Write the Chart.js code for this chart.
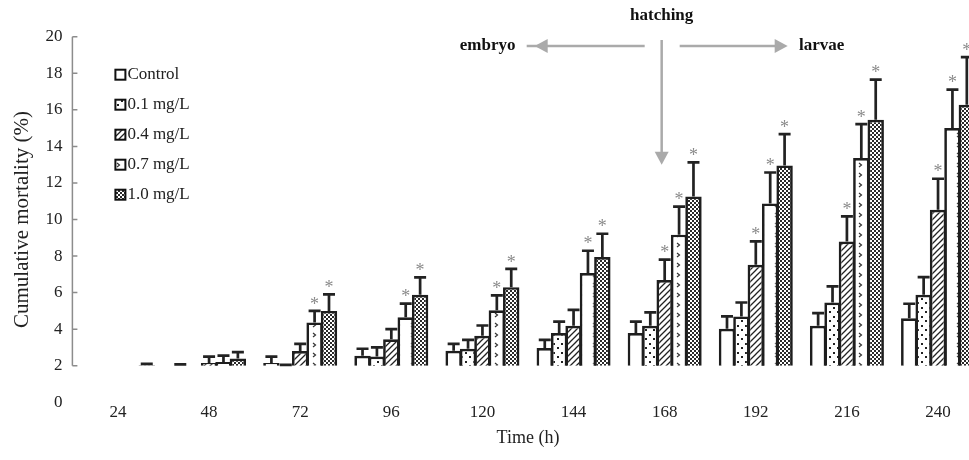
<!DOCTYPE html>
<html>
<head>
<meta charset="utf-8">
<script src="https://cdn.jsdelivr.net/npm/chart.js@4"></script>
<style>
  html, body { margin: 0; padding: 0; background: #fff; overflow: hidden; }
  #wrap { width: 1000px; height: 460px; position: relative; }
</style>
</head>
<body>
<div id="wrap"><canvas id="grafica"></canvas></div>
<script>
// datos
const horas = ['24', '48', '72', '96', '120', '144', '168', '192', '216', '240'];
const BASE = 2;   // las barras arrancan en 2 (%)

const control    = [2.0, 2.0, 2.15, 2.55, 2.82, 2.97, 3.79, 4.02, 4.19, 4.6];
const controlErr = [0, 0.08, 0.35, 0.38, 0.38, 0.45, 0.62, 0.68, 0.69, 0.79];
const c01        = [2.0, 2.0, 2.0, 2.5, 2.93, 3.79, 4.19, 4.7, 5.46, 5.88];
const c01Err     = [0, 0, 0.05, 0.5, 0.49, 0.62, 0.73, 0.76, 0.88, 0.97];
const c04        = [2.0, 2.15, 2.8, 3.45, 3.64, 4.19, 6.69, 7.52, 8.8, 10.53];
const c04Err     = [0, 0.35, 0.4, 0.55, 0.56, 0.87, 1.11, 1.28, 1.37, 1.7];
const c07        = [2.0, 2.2, 4.37, 4.65, 5.03, 7.07, 9.17, 10.88, 13.36, 15.0];
const c07Err     = [0, 0.35, 0.63, 0.75, 0.82, 1.22, 1.53, 1.69, 1.86, 2.1];
const c10        = [2.02, 2.4, 5.0, 5.88, 6.3, 7.95, 11.26, 12.96, 15.46, 16.28];
const c10Err     = [0.08, 0.35, 0.9, 0.95, 1.0, 1.27, 1.86, 1.71, 2.19, 2.6];

// diferencias significativas (*)
const sigControl = [0, 0, 0, 0, 0, 0, 0, 0, 0, 0];
const sig01      = [0, 0, 0, 0, 0, 0, 0, 0, 0, 0];
const sig04      = [0, 0, 0, 0, 0, 0, 1, 1, 1, 1];
const sig07      = [0, 0, 1, 1, 1, 1, 1, 1, 1, 1];
const sig10      = [0, 0, 1, 1, 1, 1, 1, 1, 1, 1];

const etiquetas = ['Control', '0.1 mg/L', '0.4 mg/L', '0.7 mg/L', '1.0 mg/L'];

const SERIF = "'Liberation Serif', 'DejaVu Serif', serif";
const OSCURO = '#1e1e1e';

// Tramas de relleno
function crearTrama(tipo) {
    const c = document.createElement('canvas');
    const g = c.getContext('2d');
    if (tipo === 'blanco') {
        c.width = 4; c.height = 4;
        g.fillStyle = '#fff'; g.fillRect(0, 0, 4, 4);
    } else if (tipo === 'puntos') {
        c.width = 8; c.height = 9;
        g.fillStyle = '#fff'; g.fillRect(0, 0, 8, 9);
        g.fillStyle = '#222';
        g.fillRect(1, 1, 2, 2);
        g.fillRect(5, 5, 2, 2);
    } else if (tipo === 'rayas') {
        c.width = 6; c.height = 6;
        g.fillStyle = '#fff'; g.fillRect(0, 0, 6, 6);
        g.strokeStyle = '#222'; g.lineWidth = 1.3;
        g.beginPath();
        g.moveTo(-1, 7); g.lineTo(7, -1);
        g.moveTo(-1, 1); g.lineTo(1, -1);
        g.moveTo(5, 7); g.lineTo(7, 5);
        g.stroke();
    } else if (tipo === 'flechas') {
        c.width = 14; c.height = 10;
        g.fillStyle = '#fff'; g.fillRect(0, 0, 14, 10);
        g.strokeStyle = '#333'; g.lineWidth = 1.2;
        g.beginPath();
        g.moveTo(5, 3); g.lineTo(7.5, 5); g.lineTo(5, 7);
        g.stroke();
    } else if (tipo === 'cuadros') {
        c.width = 4; c.height = 4;
        g.fillStyle = '#fff'; g.fillRect(0, 0, 4, 4);
        g.fillStyle = '#2a2a2a';
        g.fillRect(0, 0, 2, 2);
        g.fillRect(2, 2, 2, 2);
    }
    return document.getElementById('grafica').getContext('2d').createPattern(c, 'repeat');
}

const tramas = ['blanco', 'puntos', 'rayas', 'flechas', 'cuadros'].map(crearTrama);
const series = [control, c01, c04, c07, c10];
const errores = [controlErr, c01Err, c04Err, c07Err, c10Err];
const signif = [sigControl, sig01, sig04, sig07, sig10];

// Barras de error y asteriscos
const barrasError = {
    id: 'barrasError',
    afterDatasetsDraw(chart) {
        const ctx = chart.ctx;
        const y = chart.scales.y;
        ctx.save();
        series.forEach((vals, i) => {
            const meta = chart.getDatasetMeta(i);
            meta.data.forEach((bar, j) => {
                const err = errores[i][j];
                const yTop = y.getPixelForValue(vals[j] + err);
                if (err > 0) {
                    ctx.strokeStyle = '#222';
                    ctx.lineWidth = 2.7;
                    ctx.beginPath();
                    ctx.moveTo(bar.x, bar.y);
                    ctx.lineTo(bar.x, yTop);
                    ctx.moveTo(bar.x - 6, yTop);
                    ctx.lineTo(bar.x + 6, yTop);
                    ctx.stroke();
                }
                if (signif[i][j]) {
                    ctx.fillStyle = '#8a8a8a';
                    ctx.font = '18px ' + SERIF;
                    ctx.textAlign = 'center';
                    ctx.textBaseline = 'middle';
                    ctx.fillText('*', bar.x, yTop - 6);
                }
            });
        });
        ctx.restore();
    }
};

// Eje Y (de 2 a 20) con marcas hacia dentro
const ejeY = {
    id: 'ejeY',
    afterDraw(chart) {
        const ctx = chart.ctx;
        const y = chart.scales.y;
        const x0 = chart.chartArea.left;
        ctx.save();
        ctx.strokeStyle = '#8c8c8c';
        ctx.lineWidth = 1.5;
        ctx.beginPath();
        ctx.moveTo(x0, y.getPixelForValue(BASE));
        ctx.lineTo(x0, y.getPixelForValue(20));
        for (let v = BASE; v <= 20; v += 2) {
            const py = y.getPixelForValue(v);
            ctx.moveTo(x0, py);
            ctx.lineTo(x0 + 5, py);
        }
        ctx.stroke();
        ctx.restore();
    }
};

// Leyenda dentro del área
const leyenda = {
    id: 'leyenda',
    afterDraw(chart) {
        const ctx = chart.ctx;
        const a = chart.chartArea;
        ctx.save();
        ctx.font = '17px ' + SERIF;
        ctx.textBaseline = 'middle';
        ctx.textAlign = 'left';
        etiquetas.forEach((txt, i) => {
            const cy = a.top + 38 + i * 30;
            const bx = a.left + 43;
            ctx.fillStyle = tramas[i];
            ctx.fillRect(bx, cy - 5, 10, 10);
            ctx.strokeStyle = '#111';
            ctx.lineWidth = 2;
            ctx.strokeRect(bx, cy - 5, 10, 10);
            ctx.fillStyle = '#222';
            ctx.fillText(txt, bx + 12, cy);
        });
        ctx.restore();
    }
};

// Anotaciones: embryo / hatching / larvae
const anotaciones = {
    id: 'anotaciones',
    afterDraw(chart) {
        const ctx = chart.ctx;
        const xs = chart.scales.x;
        const ys = chart.scales.y;
        const xh = xs.getPixelForValue(6) - 3;   // 168 h
        const yFlecha = 46;
        ctx.save();
        ctx.font = 'bold 17px ' + SERIF;
        ctx.textAlign = 'center';
        ctx.textBaseline = 'middle';
        ctx.fillStyle = '#111';
        ctx.fillText('hatching', xh, 16);
        ctx.fillText('embryo', xh - 174, yFlecha);
        ctx.fillText('larvae', xh + 160, yFlecha);

        ctx.strokeStyle = '#aaaaaa';
        ctx.fillStyle = '#aaaaaa';
        ctx.lineWidth = 2.5;
        const punta = (x1, y1, dx, dy) => {
            ctx.beginPath();
            ctx.moveTo(x1, y1);
            ctx.lineTo(x1 - dx * 13 + dy * 7, y1 - dy * 13 + dx * 7);
            ctx.lineTo(x1 - dx * 13 - dy * 7, y1 - dy * 13 - dx * 7);
            ctx.closePath();
            ctx.fill();
        };
        // izquierda
        ctx.beginPath();
        ctx.moveTo(xh - 17, yFlecha); ctx.lineTo(xh - 135, yFlecha);
        ctx.stroke();
        punta(xh - 127, yFlecha, -1, 0);
        // derecha
        ctx.beginPath();
        ctx.moveTo(xh + 18, yFlecha); ctx.lineTo(xh + 115, yFlecha);
        ctx.stroke();
        punta(xh + 126, yFlecha, 1, 0);
        // abajo
        const yTip = ys.getPixelForValue(13);
        ctx.beginPath();
        ctx.moveTo(xh, 40); ctx.lineTo(xh, yTip - 10);
        ctx.stroke();
        punta(xh, yTip, 0, 1);
        ctx.restore();
    }
};

const datasets = series.map((vals, i) => ({
    label: etiquetas[i],
    data: vals.map(v => [BASE, v]),
    backgroundColor: tramas[i],
    borderColor: OSCURO,
    borderWidth: 2.7,
    borderSkipped: 'start',
    categoryPercentage: 0.79,
    barPercentage: 1.14
}));

new Chart(document.getElementById('grafica'), {
    type: 'bar',
    data: { labels: horas, datasets: datasets },
    options: {
        responsive: true,
        maintainAspectRatio: false,
        animation: false,
        layout: { padding: { top: 36.7, right: 16.4, left: 0, bottom: 0 } },
        plugins: {
            legend: { display: false },
            tooltip: { enabled: false }
        },
        scales: {
            x: {
                grid: { display: false, drawTicks: false },
                border: { display: false },
                ticks: { color: '#222', font: { family: SERIF, size: 17 }, padding: 0, maxRotation: 0 },
                title: { display: true, text: 'Time (h)', color: '#222', font: { family: SERIF, size: 18 }, padding: { top: 0, bottom: 11 } },
                afterFit(scale) { scale.height = 57.7; }
            },
            y: {
                min: 0,
                max: 20,
                grid: { display: false, drawTicks: false },
                border: { display: false },
                ticks: { stepSize: 2, color: '#222', font: { family: SERIF, size: 17 }, padding: 10 },
                title: { display: true, text: 'Cumulative mortality (%)', color: '#222', font: { family: SERIF, size: 21 }, padding: { top: 10, bottom: 0 } },
                afterFit(scale) { scale.width = 72.4; }
            }
        }
    },
    plugins: [barrasError, ejeY, leyenda, anotaciones]
});
</script>
</body>
</html>
